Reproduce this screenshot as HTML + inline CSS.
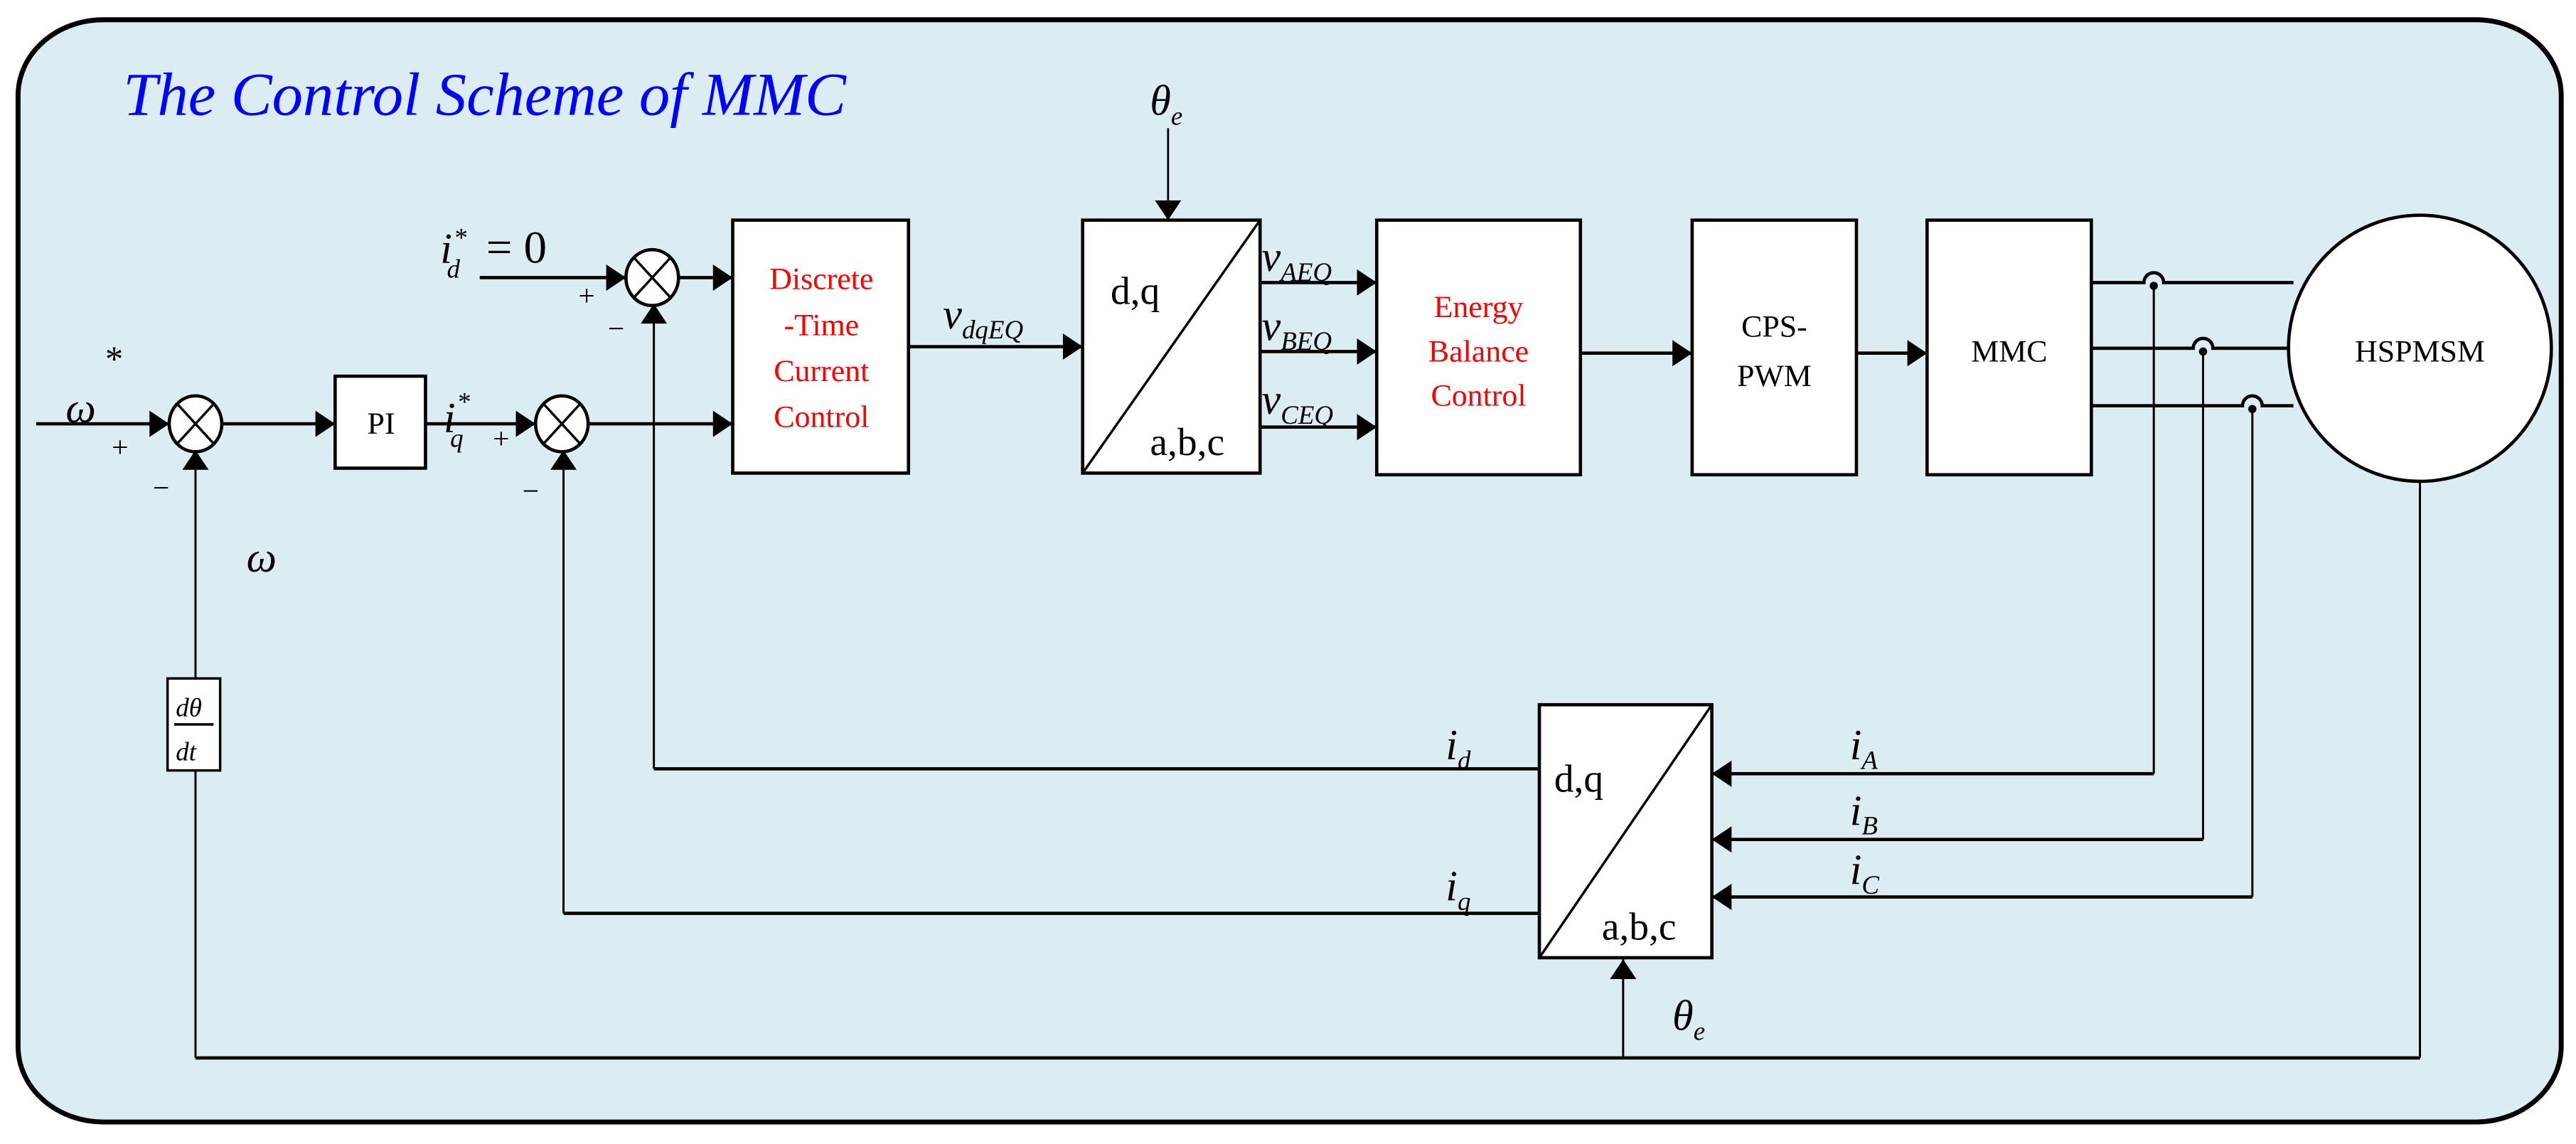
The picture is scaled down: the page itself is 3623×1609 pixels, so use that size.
<!DOCTYPE html>
<html><head><meta charset="utf-8"><style>
html,body{margin:0;padding:0;background:#fff;}
svg{display:block;}
text{font-family:"Liberation Serif",serif;}
.it{font-style:italic;}
</style></head><body>
<svg width="3623" height="1609" viewBox="0 0 1568 696.4" preserveAspectRatio="none" xmlns="http://www.w3.org/2000/svg">
<rect x="11" y="12" width="1548" height="671" rx="52" ry="46" fill="#dbedf3" stroke="#000" stroke-width="3"/>
<text x="75" y="70" class="it" font-size="37" fill="#0000ff" textLength="440" lengthAdjust="spacingAndGlyphs">The Control Scheme of MMC</text>

<g stroke="#000" fill="none">
<line x1="22" y1="258" x2="103" y2="258" stroke-width="2"/>
<line x1="135" y1="258" x2="204" y2="258" stroke-width="2"/>
<line x1="259" y1="258" x2="326" y2="258" stroke-width="2"/>
<line x1="358" y1="258" x2="446" y2="258" stroke-width="2"/>
<line x1="292" y1="169" x2="381" y2="169" stroke-width="2"/>
<line x1="413" y1="169" x2="446" y2="169" stroke-width="2"/>
<line x1="553" y1="211" x2="659" y2="211" stroke-width="2"/>
<line x1="711" y1="78" x2="711" y2="134" stroke-width="1.2"/>
<line x1="767" y1="172" x2="838" y2="172" stroke-width="2"/>
<line x1="767" y1="214" x2="838" y2="214" stroke-width="2"/>
<line x1="767" y1="260" x2="838" y2="260" stroke-width="2"/>
<line x1="962" y1="215" x2="1030" y2="215" stroke-width="2"/>
<line x1="1130" y1="215" x2="1173" y2="215" stroke-width="2"/>
<path d="M1273 172 H1305 A6 6 0 0 1 1317 172 H1396" stroke-width="2"/>
<path d="M1273 212 H1335 A6 6 0 0 1 1347 212 H1393" stroke-width="2"/>
<path d="M1273 247 H1365 A6 6 0 0 1 1377 247 H1396" stroke-width="2"/>
<line x1="1311" y1="172" x2="1311" y2="471" stroke-width="1.3"/>
<line x1="1341" y1="212" x2="1341" y2="511" stroke-width="1.3"/>
<line x1="1371" y1="247" x2="1371" y2="546" stroke-width="1.3"/>
<line x1="1042" y1="471" x2="1311" y2="471" stroke-width="2"/>
<line x1="1042" y1="511" x2="1341" y2="511" stroke-width="2"/>
<line x1="1042" y1="546" x2="1371" y2="546" stroke-width="2"/>
<line x1="937" y1="468" x2="398" y2="468" stroke-width="2"/>
<line x1="398" y1="186" x2="398" y2="468" stroke-width="1.3"/>
<line x1="937" y1="556" x2="343" y2="556" stroke-width="2"/>
<line x1="343" y1="275" x2="343" y2="556" stroke-width="1.3"/>
<line x1="119" y1="275" x2="119" y2="413" stroke-width="1.3"/>
<line x1="119" y1="469" x2="119" y2="644" stroke-width="1.3"/>
<line x1="119" y1="644" x2="1473" y2="644" stroke-width="2"/>
<line x1="1473" y1="293" x2="1473" y2="644" stroke-width="1.3"/>
<line x1="988" y1="583" x2="988" y2="644" stroke-width="1.3"/>
</g>
<g fill="#000">
<circle cx="1311" cy="174" r="2.5"/><circle cx="1341" cy="214" r="2.5"/><circle cx="1371" cy="249" r="2.5"/>
<polygon points="91,250 103,258 91,266"/>
<polygon points="192,250 204,258 192,266"/>
<polygon points="314,250 326,258 314,266"/>
<polygon points="434,250 446,258 434,266"/>
<polygon points="369,161 381,169 369,177"/>
<polygon points="434,161 446,169 434,177"/>
<polygon points="647,203 659,211 647,219"/>
<polygon points="703,122 711,134 719,122"/>
<polygon points="826,164 838,172 826,180"/>
<polygon points="826,206 838,214 826,222"/>
<polygon points="826,252 838,260 826,268"/>
<polygon points="1018,207 1030,215 1018,223"/>
<polygon points="1161,207 1173,215 1161,223"/>
<polygon points="111,286 119,274 127,286"/>
<polygon points="335,286 343,274 351,286"/>
<polygon points="390,197 398,185 406,197"/>
<polygon points="1054,463 1042,471 1054,479"/>
<polygon points="1054,503 1042,511 1054,519"/>
<polygon points="1054,538 1042,546 1054,554"/>
<polygon points="980,596 988,584 996,596"/>
</g>
<g stroke="#000" stroke-width="2" fill="#fff">
<ellipse cx="119" cy="258" rx="16" ry="17"/>
<ellipse cx="342" cy="258" rx="16" ry="17"/>
<ellipse cx="397" cy="169" rx="16" ry="17"/>
</g>
<g stroke="#000" stroke-width="1.5">
<line x1="108" y1="246" x2="130" y2="270"/><line x1="130" y1="246" x2="108" y2="270"/>
<line x1="331" y1="246" x2="353" y2="270"/><line x1="353" y1="246" x2="331" y2="270"/>
<line x1="386" y1="157" x2="408" y2="181"/><line x1="408" y1="157" x2="386" y2="181"/>
</g>
<g stroke="#000" stroke-width="2" fill="#fff">
<rect x="204" y="229" width="55" height="56"/>
<rect x="446" y="134" width="107" height="154"/>
<rect x="659" y="134" width="108" height="154"/>
<rect x="838" y="134" width="124" height="155"/>
<rect x="1030" y="134" width="100" height="155"/>
<rect x="1173" y="134" width="100" height="155"/>
<ellipse cx="1473" cy="212" rx="80" ry="81"/>
<rect x="937" y="429" width="105" height="154"/>
<rect x="102" y="413" width="32" height="56" stroke-width="1.5"/>
</g>
<g stroke="#000" stroke-width="1.5">
<line x1="659" y1="288" x2="767" y2="134"/>
<line x1="937" y1="583" x2="1042" y2="429"/>
<line x1="106" y1="441" x2="130" y2="441"/>
</g>
<g font-size="19" text-anchor="middle">
<text x="232" y="264">PI</text>
<text x="500" y="176" fill="#ff0000">Discrete</text>
<text x="500" y="204" fill="#ff0000">-Time</text>
<text x="500" y="232" fill="#ff0000">Current</text>
<text x="500" y="260" fill="#ff0000">Control</text>
<text x="900" y="193" fill="#ff0000">Energy</text>
<text x="900" y="220" fill="#ff0000">Balance</text>
<text x="900" y="247" fill="#ff0000">Control</text>
<text x="1080" y="205">CPS-</text>
<text x="1080" y="235">PWM</text>
<text x="1223" y="220">MMC</text>
<text x="1473" y="220">HSPMSM</text>
</g>
<g font-size="24">
<text x="676" y="185">d,q</text>
<text x="700" y="277">a,b,c</text>
<text x="946" y="482">d,q</text>
<text x="975" y="572">a,b,c</text>
</g>
<g class="it" font-size="26">
<text x="40" y="257">ω</text>
<text x="150" y="348">ω</text>
<text x="700" y="70">θ<tspan font-size="16" dy="6">e</tspan></text>
<text x="1018" y="627">θ<tspan font-size="16" dy="6">e</tspan></text>
<text x="768" y="165">v<tspan font-size="16" dy="6">AEQ</tspan></text>
<text x="768" y="207">v<tspan font-size="16" dy="6">BEQ</tspan></text>
<text x="768" y="252">v<tspan font-size="16" dy="6">CEQ</tspan></text>
<text x="574" y="200">v<tspan font-size="16" dy="6">dqEQ</tspan></text>
<text x="880" y="462">i<tspan font-size="16" dy="6">d</tspan></text>
<text x="880" y="548">i<tspan font-size="16" dy="6">q</tspan></text>
<text x="1126" y="462">i<tspan font-size="16" dy="6">A</tspan></text>
<text x="1126" y="502">i<tspan font-size="16" dy="6">B</tspan></text>
<text x="1126" y="538">i<tspan font-size="16" dy="6">C</tspan></text>
<text x="268" y="160">i</text>
<text x="270" y="263">i</text>
</g>
<g font-size="16" class="it">
<text x="272" y="169">d</text><text x="276" y="150">*</text>
<text x="274" y="272">q</text><text x="278" y="250">*</text>
<text x="107" y="436">dθ</text><text x="107" y="463">dt</text>
</g>
<text x="64" y="226" font-size="22">*</text>
<text x="296" y="160" font-size="28">= 0</text>
<g font-size="18">
<text x="68" y="278">+</text>
<text x="93" y="303">−</text>
<text x="300" y="273">+</text>
<text x="318" y="305">−</text>
<text x="352" y="186">+</text>
<text x="370" y="206">−</text>
</g>
</svg>
</body></html>
